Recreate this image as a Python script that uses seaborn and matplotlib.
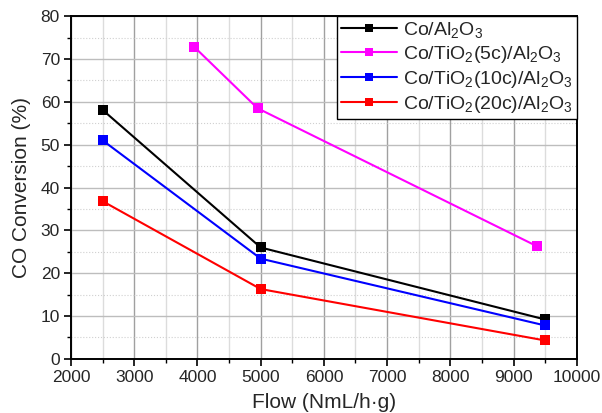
import pandas as pd
import matplotlib.pyplot as plt
import seaborn as sns
from matplotlib.ticker import MultipleLocator

# --- donnees ---
SERIES = [r'Co/Al$_2$O$_3$', r'Co/TiO$_2$(5c)/Al$_2$O$_3$',
          r'Co/TiO$_2$(10c)/Al$_2$O$_3$', r'Co/TiO$_2$(20c)/Al$_2$O$_3$']
COULEURS = ['#000000', '#ff00ff', '#0000ff', '#ff0000']

flow_co = [2500, 5000, 9500]
conv_co = [58.1, 26.0, 9.2]
flow_5c = [3950, 4950, 9370]
conv_5c = [72.8, 58.5, 26.3]
flow_10c = [2500, 5000, 9500]
conv_10c = [51.0, 23.4, 7.8]
flow_20c = [2500, 5000, 9500]
conv_20c = [36.8, 16.3, 4.3]

sns.set_theme(style="white")
plt.rcParams['font.family'] = ['Liberation Sans', 'DejaVu Sans']
plt.rcParams['mathtext.default'] = 'regular'

frames = []
for nom, xs, ys in zip(SERIES, [flow_co, flow_5c, flow_10c, flow_20c],
                       [conv_co, conv_5c, conv_10c, conv_20c]):
    frames.append(pd.DataFrame({'Flow': xs, 'Conv': ys, 'Serie': nom}))
df = pd.concat(frames, ignore_index=True)

fig = plt.figure(figsize=(6.02, 4.13), dpi=100)
ax = fig.add_axes([0.118, 0.131, 0.840, 0.830])

# grille
ax.xaxis.set_major_locator(MultipleLocator(1000))
ax.xaxis.set_minor_locator(MultipleLocator(500))
ax.yaxis.set_major_locator(MultipleLocator(10))
ax.yaxis.set_minor_locator(MultipleLocator(5))
ax.grid(which='major', axis='x', color='#a0a0a0', linewidth=1.0)
ax.grid(which='minor', axis='x', color='#dcdcdc', linewidth=1.0)
ax.grid(which='major', axis='y', color='#bdbdbd', linewidth=1.0)
ax.grid(which='minor', axis='y', color='#d0d0d0', linewidth=0.8, linestyle=':')
ax.set_axisbelow(True)

sns.lineplot(data=df, x='Flow', y='Conv', hue='Serie', hue_order=SERIES,
             palette=COULEURS, sort=False, marker='s', markersize=7,
             markeredgewidth=0, linewidth=1.5, ax=ax)

ax.set_xlim(2000, 10000)
ax.set_ylim(0, 80)
ax.set_xlabel('Flow (NmL/h·g)', fontsize=15, labelpad=6)
ax.set_ylabel('CO Conversion (%)', fontsize=15, labelpad=7)
ax.tick_params(which='major', direction='out', length=5, width=1.2,
               labelsize=12.5, bottom=True, left=True, color='black', pad=3)
ax.tick_params(which='minor', direction='out', length=3, width=1.0,
               bottom=True, left=True, color='black')
for sp in ax.spines.values():
    sp.set_color('black')
    sp.set_linewidth(1.4)

leg = ax.legend(loc='upper right', fontsize=14, frameon=True, fancybox=False,
                edgecolor='black', framealpha=1, handlelength=2.9,
                borderaxespad=0.0, labelspacing=0.2, borderpad=0.2,
                handletextpad=0.3, markerscale=0.85)
leg.get_frame().set_linewidth(1.0)

plt.savefig('out.png', dpi=100)
plt.close()
